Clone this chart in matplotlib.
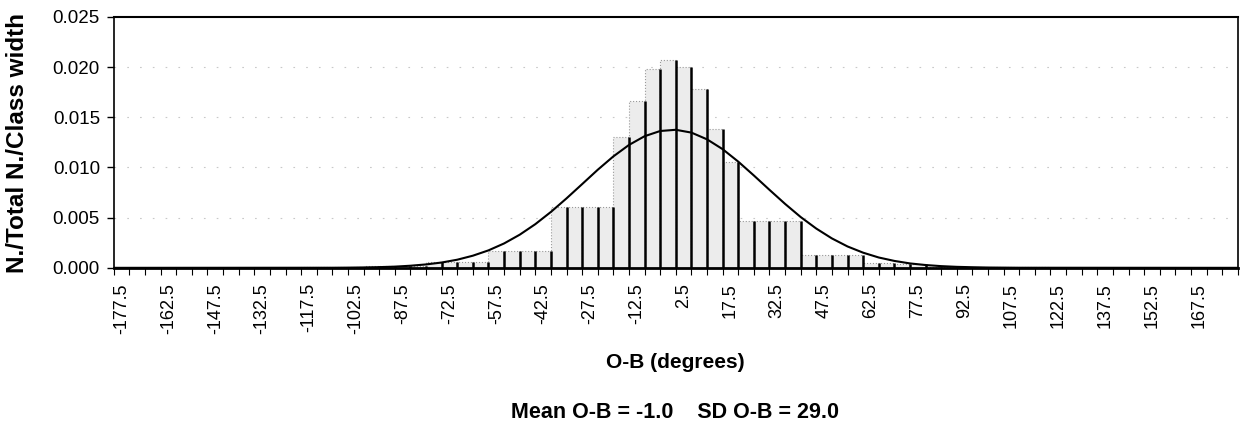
import numpy as np
import matplotlib
matplotlib.use('Agg')
import matplotlib.pyplot as plt

## histogram classes (5 degrees each, centres from -177.5 to 177.5)
class_centres = np.arange(-177.5, 180, 5)
class_width = 5

## N./Total N./Class width (one value per 5-degree class)
density = [0, 0, 0, 0, 0, 0, 0, 0, 0, 0, 0, 0,
           0.00005, 0.00005, 0.00005, 0.00005,
           0.0002, 0.0002, 0.0002, 0.0002,
           0.0006, 0.0006, 0.0006, 0.0006,
           0.0017, 0.0017, 0.0017, 0.0017,
           0.0061, 0.0061, 0.0061, 0.0061,
           0.0130, 0.0166, 0.0198, 0.0207, 0.0200, 0.0178, 0.0138, 0.0105,
           0.0047, 0.0047, 0.0047, 0.0047,
           0.0013, 0.0013, 0.0013, 0.0013,
           0.0005, 0.0005, 0.0004, 0.0004,
           0.0001, 0.0001, 0.0001, 0.0001,
           0.00005, 0.00005, 0.00005, 0.00005,
           0, 0, 0, 0, 0, 0, 0, 0, 0, 0, 0, 0]

## fitted normal curve as drawn on the chart
curve_x = [-180, -110, -105, -100, -95, -90, -85, -80, -75, -70, -65, -60, -55, -50,
           -45, -40, -35, -30, -25, -20, -15, -10, -5, 0, 5, 10, 15, 20, 25, 30,
           35, 40, 45, 50, 55, 60, 65, 70, 75, 80, 85, 90, 95, 100, 105, 110, 180]
curve_y = [0, 0.00001, 0.00002, 0.00004, 0.00007, 0.00012, 0.00021, 0.00034, 0.00053,
           0.00081, 0.00121, 0.00174, 0.00243, 0.00330, 0.00435, 0.00557, 0.00692,
           0.00834, 0.00977, 0.01110, 0.01224, 0.01311, 0.01363, 0.01375, 0.01347,
           0.01280, 0.01182, 0.01058, 0.00920, 0.00777, 0.00637, 0.00506, 0.00391,
           0.00293, 0.00213, 0.00151, 0.00103, 0.00069, 0.00044, 0.00028, 0.00017,
           0.00010, 0.00006, 0.00003, 0.00002, 0.00001, 0]

x_labels = class_centres[::3]
y_ticks = [0.000, 0.005, 0.010, 0.015, 0.020, 0.025]

mean_ob = -1.0
sd_ob = 29.0

plt.rcParams['font.family'] = ['Liberation Sans', 'DejaVu Sans']

fig = plt.figure(figsize=(12.44, 4.32), dpi=100)
ax = fig.add_axes([0.0915, 0.38, 0.9035, 0.581])

## faint dotted gridlines
for yv in y_ticks[1:-1]:
    ax.axhline(yv, color='#c8c8c8', lw=0.8, dashes=(1.5, 10), zorder=0)

## bars
ax.bar(class_centres, density, width=class_width, color='#ececec',
       edgecolor='#9a9a9a', linewidth=0.8, linestyle=':', zorder=1)
## dark right-hand edge of each bar
right_edges = class_centres + class_width / 2.0
ax.vlines(right_edges, 0, density, colors='black', lw=1.8, zorder=2)

## normal curve
ax.plot(curve_x, curve_y, color='black', lw=1.5, zorder=3)

ax.set_xlim(-180, 180)
ax.set_ylim(0, 0.025)

ax.set_yticks(y_ticks)
ax.set_yticklabels(['%.3f' % v for v in y_ticks], fontsize=13.5)
ax.tick_params(axis='y', direction='out', length=5, width=1, pad=5)

## boundary ticks (every class) without labels, labels at class centres
ax.set_xticks(np.arange(-180, 181, 5), minor=True)
ax.set_xticks(x_labels)
ax.set_xticklabels(['%.1f' % v for v in x_labels], rotation=90, fontsize=13)
ax.tick_params(axis='x', which='major', length=0, pad=11)
ax.tick_params(axis='x', which='minor', direction='out', length=5, width=0.8)

for side in ['left', 'right']:
    ax.spines[side].set_linewidth(1.2)
ax.spines['top'].set_linewidth(1.5)
ax.spines['bottom'].set_linewidth(2.0)

fig.text(0.014, 0.67, 'N./Total N./Class width', rotation=90, fontsize=17.5,
         fontweight='bold', ha='center', va='center')
fig.text(0.543, 0.16, 'O-B (degrees)', fontsize=15, fontweight='bold',
         ha='center', va='center')
fig.text(0.543, 0.045, 'Mean O-B = %.1f    SD O-B = %.1f' % (mean_ob, sd_ob),
         fontsize=15.5, fontweight='bold', ha='center', va='center')

plt.savefig('out.png', dpi=100)
plt.close()
